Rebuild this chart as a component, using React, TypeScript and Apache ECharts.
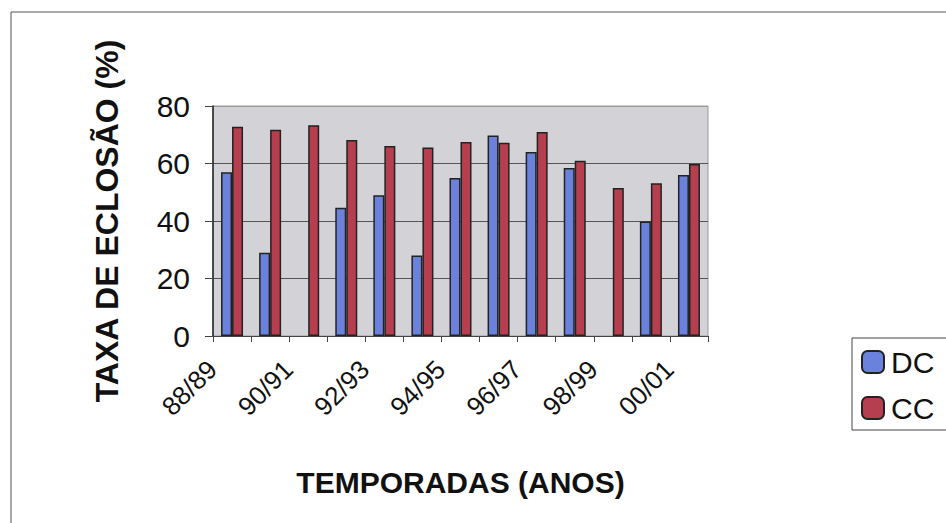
import React, { useEffect, useRef } from "react";
import * as echarts from "echarts";

const categories = ["88/89", "89/90", "90/91", "91/92", "92/93", "93/94", "94/95", "95/96", "96/97", "97/98", "98/99", "99/00", "00/01"];
const dcValues: (number | null)[] = [57, 29, null, 44.6, 49, 28, 55, 69.7, 64, 58.4, null, 39.8, 56];
const ccValues: (number | null)[] = [72.8, 71.7, 73.3, 68.2, 66.1, 65.6, 67.5, 67.2, 71, 61, 51.5, 53.1, 59.8];
const yTicks = { min: 0, max: 80, interval: 20 };

const FONT = "'Liberation Sans', Arial, sans-serif";

export default function App() {
  const ref = useRef<HTMLDivElement>(null);
  useEffect(() => {
    if (!ref.current) return;
    const chart = echarts.init(ref.current, undefined, { renderer: "svg" });
    chart.setOption({
      animation: false,
      backgroundColor: "#ffffff",
      textStyle: { fontFamily: FONT },
      graphic: [
        {
          type: "rect",
          shape: { x: 11, y: 12, width: 960, height: 540 },
          style: { fill: "none", stroke: "#555", lineWidth: 1 },
          silent: true,
        },
      ],
      grid: {
        left: 213,
        top: 106,
        width: 495,
        height: 230,
        show: true,
        backgroundColor: "#d3d3d7",
        borderColor: "#9a9a9a",
        borderWidth: 1,
      },
      legend: {
        orient: "vertical",
        left: 852,
        top: 338,
        padding: [9, 40, 7, 9],
        borderColor: "#444",
        borderWidth: 1,
        itemWidth: 22,
        itemHeight: 22,
        itemGap: 16,
        textStyle: { fontSize: 30, color: "#111", fontFamily: FONT, lineHeight: 30, padding: [0, 0, 0, 2] },
        data: ["DC", "CC"],
      },
      xAxis: {
        type: "category",
        data: categories,
        boundaryGap: true,
        axisLine: { show: true, lineStyle: { color: "#444", width: 1 } },
        axisTick: { show: true, interval: 0, length: 6, lineStyle: { color: "#444" } },
        axisLabel: {
          interval: 1,
          rotate: 45,
          fontSize: 26,
          color: "#111",
          margin: 9,
          padding: [0, 28, 0, 0],
          fontFamily: FONT,
        },
        name: "TEMPORADAS (ANOS)",
        nameLocation: "middle",
        nameGap: 131,
        nameTextStyle: { fontSize: 30, fontWeight: "bold", color: "#111", fontFamily: FONT },
      },
      yAxis: {
        type: "value",
        min: yTicks.min,
        max: yTicks.max,
        interval: yTicks.interval,
        axisLine: { show: true, lineStyle: { color: "#222", width: 1.5 } },
        axisTick: { show: true, length: 8, lineStyle: { color: "#444" } },
        axisLabel: { fontSize: 30, color: "#111", margin: 23, fontFamily: FONT },
        splitLine: { show: true, lineStyle: { color: ["#555", "#555", "#555", "#555", "#9a9a9a"], width: 1 } },
        name: "TAXA DE ECLOSÃO (%)",
        nameLocation: "middle",
        nameGap: 90,
        nameTextStyle: { fontSize: 32, fontWeight: "bold", color: "#111", fontFamily: FONT },
      },
      series: [
        {
          name: "DC",
          type: "bar",
          data: dcValues,
          barWidth: 11,
          barGap: "0%",
          itemStyle: { color: "#6a82dc", borderColor: "#222", borderWidth: 1.5 },
        },
        {
          name: "CC",
          type: "bar",
          data: ccValues,
          barWidth: 11,
          barGap: "0%",
          itemStyle: { color: "#b63f4f", borderColor: "#222", borderWidth: 1.5 },
        },
      ],
    });
    return () => chart.dispose();
  }, []);
  return (
    <div
      ref={ref}
      style={{ position: "fixed", left: 0, top: 0, width: 946, height: 523, background: "#fff" }}
    />
  );
}
